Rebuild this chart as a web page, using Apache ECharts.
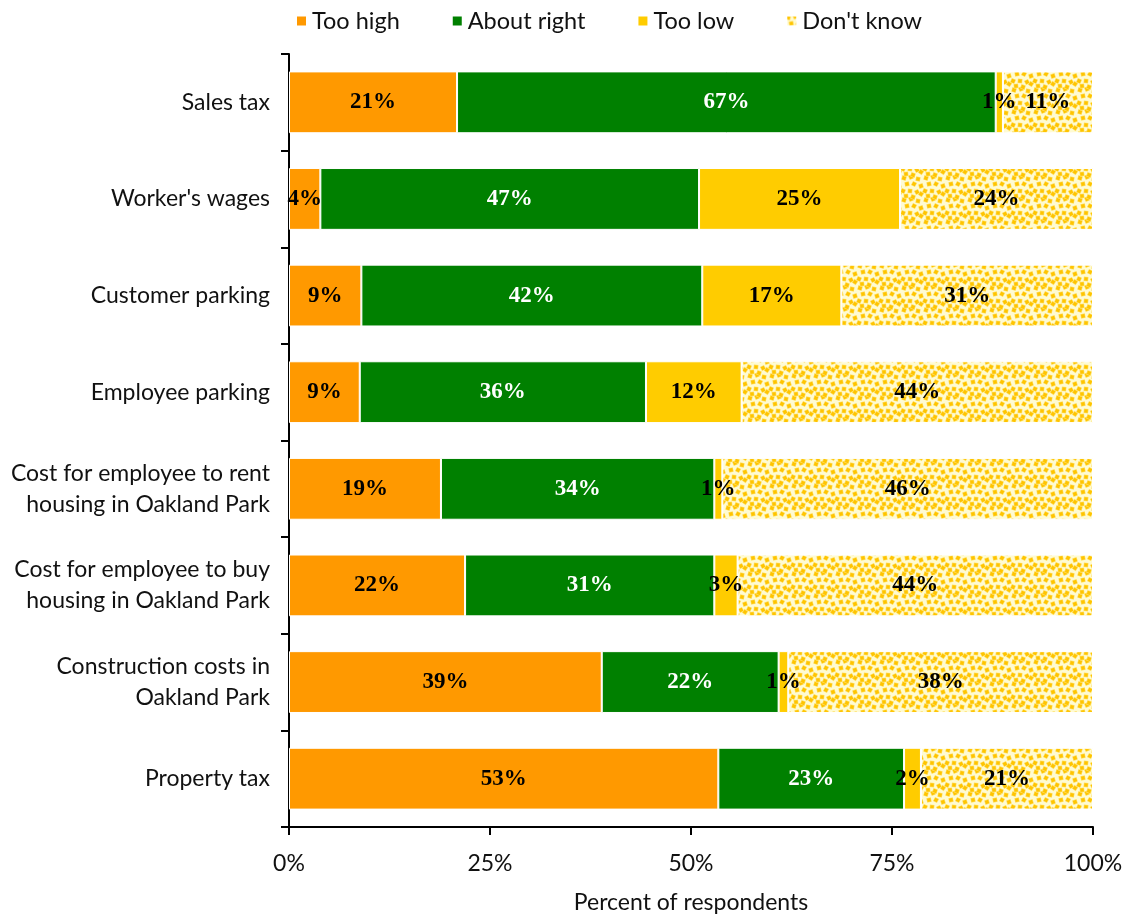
<!DOCTYPE html>
<html>
<head>
<meta charset="utf-8">
<script src="https://cdn.jsdelivr.net/npm/echarts@6/dist/echarts.min.js"></script>
<style>
  html, body { margin: 0; padding: 0; background: #fff; }
  #chart { width: 1127px; height: 915px; }
</style>
</head>
<body>
<div id="chart"></div>
<script>
// Survey items (top to bottom)
const categories = [
  'Sales tax',
  "Worker's wages",
  'Customer parking',
  'Employee parking',
  'Cost for employee to rent\nhousing in Oakland Park',
  'Cost for employee to buy\nhousing in Oakland Park',
  'Construction costs in\nOakland Park',
  'Property tax'
];

// Share of respondents (%) per answer
const tooHigh    = [20.9, 3.9, 9.0, 8.8, 18.9, 21.9, 38.9, 53.4];
const aboutRight = [67.0, 47.1, 42.4, 35.6, 34.0, 31.0, 22.0, 23.1];
const tooLow     = [0.9, 25.0, 17.3, 11.9, 1.0, 2.9, 1.2, 2.1];
const dontKnow   = [11.2, 24.0, 31.3, 43.7, 46.1, 44.2, 37.9, 21.4];

const xTicks = [0, 25, 50, 75, 100];

// Dotted fill for "Don't know": yellow chips on a pale yellow ground
function makeDots() {
  const c = document.createElement('canvas');
  c.width = 22; c.height = 22;
  const g = c.getContext('2d');
  g.fillStyle = '#fffbd2';
  g.fillRect(0, 0, 22, 22);
  const chips = [
    [2, 2, 0.3], [9, 1, -0.4], [16, 3, 0.2],
    [5, 8, -0.2], [12, 8, 0.5], [19, 10, -0.3],
    [1, 15, 0.4], [8, 15, 0.1], [15, 16, -0.5],
    [4, 20, -0.1], [11, 21, 0.3], [19, 18, 0.6]
  ];
  chips.forEach(([x, y, a]) => {
    for (let dx = -22; dx <= 22; dx += 22) {
      for (let dy = -22; dy <= 22; dy += 22) {
        g.save();
        g.translate(x + dx, y + dy);
        g.rotate(a);
        g.fillStyle = '#ffe066';
        g.fillRect(-2.3, -2.3, 4.6, 4.6);
        g.fillStyle = '#ffc400';
        g.fillRect(-1.7, -1.7, 3.4, 3.4);
        g.restore();
      }
    }
  });
  return c;
}

const chart = echarts.init(document.getElementById('chart'), null, { renderer: 'canvas' });

const labelFont = {
  fontFamily: '"Liberation Serif", serif',
  fontWeight: 'bold',
  fontSize: 23
};

function barSeries(name, data, color, textColor) {
  return {
    name: name,
    type: 'bar',
    stack: 'total',
    data: data,
    barCategoryGap: '36%',
    itemStyle: { color: color, borderColor: '#ffffff', borderWidth: 1 },
    label: Object.assign({
      show: true,
      position: 'inside',
      color: textColor,
      formatter: p => Math.round(p.value) + '%'
    }, labelFont),
    emphasis: { disabled: true }
  };
}

const axisFont = { fontFamily: 'Lato, sans-serif', fontSize: 23, color: '#111' };

chart.setOption({
  animation: false,
  backgroundColor: '#ffffff',
  legend: {
    top: 4,
    left: 290,
    itemWidth: 11,
    itemHeight: 11,
    itemGap: 51,
    icon: 'rect',
    textStyle: Object.assign({}, axisFont, { fontSize: 23.5 }),
    data: ['Too high', 'About right', 'Too low', "Don't know"]
  },
  grid: {
    left: 289, right: 34, top: 54, bottom: 88,
    containLabel: false,
    outerBoundsMode: 'none'
  },
  xAxis: {
    type: 'value',
    min: 0,
    max: 100,
    interval: 25,
    name: 'Percent of respondents',
    nameLocation: 'middle',
    nameGap: 64,
    nameTextStyle: axisFont,
    axisLine: { show: true, lineStyle: { color: '#000', width: 2 } },
    axisTick: { show: true, length: 8, lineStyle: { color: '#000', width: 2 } },
    axisLabel: Object.assign({ margin: 25, formatter: v => v + '%' }, axisFont),
    splitLine: { show: false }
  },
  yAxis: {
    type: 'category',
    inverse: true,
    data: categories,
    axisLine: { show: true, lineStyle: { color: '#000', width: 2 } },
    axisTick: { show: true, length: 8, lineStyle: { color: '#000', width: 2 } },
    axisLabel: Object.assign({ margin: 19, lineHeight: 31, align: 'right' }, axisFont)
  },
  series: [
    barSeries('Too high', tooHigh, '#ff9900', '#000'),
    barSeries('About right', aboutRight, '#008000', '#fff'),
    barSeries('Too low', tooLow, '#ffcc00', '#000'),
    barSeries("Don't know", dontKnow, { image: makeDots(), repeat: 'repeat' }, '#000')
  ]
});
</script>
</body>
</html>
